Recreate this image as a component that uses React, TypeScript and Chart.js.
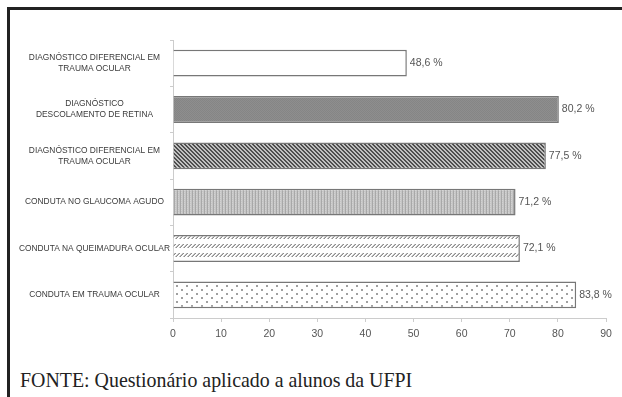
import React, { useEffect, useRef } from "react";
import { Chart, registerables } from "chart.js";

Chart.register(...registerables);

const categories: string[][] = [
  ["DIAGNÓSTICO DIFERENCIAL EM", "TRAUMA OCULAR"],
  ["DIAGNÓSTICO", "DESCOLAMENTO DE RETINA"],
  ["DIAGNÓSTICO DIFERENCIAL EM", "TRAUMA OCULAR"],
  ["CONDUTA NO GLAUCOMA AGUDO"],
  ["CONDUTA NA QUEIMADURA OCULAR"],
  ["CONDUTA EM TRAUMA OCULAR"],
];
const values: number[] = [48.6, 80.2, 77.5, 71.2, 72.1, 83.8];
const valueLabels: string[] = ["48,6 %", "80,2 %", "77,5 %", "71,2 %", "72,1 %", "83,8 %"];
const xTicks: number[] = [0, 10, 20, 30, 40, 50, 60, 70, 80, 90];
const patternKinds: string[] = ["white", "grey", "diag", "vert", "rows", "dots"];
const footerText = "FONTE: Questionário aplicado a alunos da UFPI";

function makePattern(kind: string): CanvasPattern | string {
  const c = document.createElement("canvas");
  const ctx = c.getContext("2d")!;
  if (kind === "white") return "#ffffff";
  if (kind === "grey") {
    c.width = 2; c.height = 2;
    ctx.fillStyle = "#8e8e8e"; ctx.fillRect(0, 0, 2, 2);
    ctx.fillStyle = "#858585"; ctx.fillRect(0, 0, 1, 1); ctx.fillRect(1, 1, 1, 1);
  } else if (kind === "diag") {
    c.width = 4; c.height = 4;
    ctx.fillStyle = "#c0c0c0"; ctx.fillRect(0, 0, 4, 4);
    ctx.fillStyle = "#4e4e4e";
    for (let i = 0; i < 4; i++) {
      ctx.fillRect(i, i, 1, 1);
      ctx.fillRect((i + 1) % 4, i, 1, 1);
    }
  } else if (kind === "vert") {
    c.width = 3; c.height = 2;
    ctx.fillStyle = "#c6c6c6"; ctx.fillRect(0, 0, 3, 2);
    ctx.fillStyle = "#a8a8a8"; ctx.fillRect(0, 0, 1, 2);
    ctx.fillStyle = "#d2d2d2"; ctx.fillRect(1, 0, 1, 1);
  } else if (kind === "rows") {
    c.width = 4; c.height = 9;
    ctx.fillStyle = "#ffffff"; ctx.fillRect(0, 0, 4, 9);
    ctx.fillStyle = "#8e8e8e";
    ctx.fillRect(3, 1, 1, 1); ctx.fillRect(2, 2, 1, 1); ctx.fillRect(1, 3, 1, 1); ctx.fillRect(0, 4, 1, 1);
    ctx.fillStyle = "#c0c0c0";
    ctx.fillRect(2, 1, 1, 1); ctx.fillRect(1, 2, 1, 1); ctx.fillRect(0, 3, 1, 1); ctx.fillRect(3, 4, 1, 1);
  } else if (kind === "dots") {
    c.width = 10; c.height = 8;
    ctx.fillStyle = "#ffffff"; ctx.fillRect(0, 0, 10, 8);
    ctx.fillStyle = "#a0a0a0";
    ctx.fillRect(1, 1, 2, 2);
    ctx.fillRect(6, 5, 2, 2);
  }
  const p = ctx.createPattern(c, "repeat");
  return p || "#ffffff";
}

const valueLabelPlugin = {
  id: "valueLabels",
  afterDatasetsDraw(chart: any) {
    const ctx = chart.ctx;
    const meta = chart.getDatasetMeta(0);
    ctx.save();
    ctx.font = "10.5px 'Liberation Sans', Arial, sans-serif";
    ctx.fillStyle = "#555555";
    ctx.textAlign = "left";
    ctx.textBaseline = "middle";
    meta.data.forEach((bar: any, i: number) => {
      ctx.fillText(valueLabels[i], bar.x + 3, bar.y);
    });
    ctx.restore();
  },
};

export default function App() {
  const ref = useRef<HTMLCanvasElement | null>(null);
  useEffect(() => {
    if (!ref.current) return;
    const bg = patternKinds.map((k) => makePattern(k));
    const chart = new Chart(ref.current, {
      type: "bar",
      data: {
        labels: categories,
        datasets: [
          {
            data: values,
            backgroundColor: bg as any,
            borderColor: "#777777",
            borderWidth: 1.5,
            categoryPercentage: 1,
            barPercentage: 0.58,
          },
        ],
      },
      options: {
        indexAxis: "y",
        animation: false,
        responsive: false,
        devicePixelRatio: 1,
        layout: { padding: { left: 10, right: 16, top: 40, bottom: 0 } },
        plugins: { legend: { display: false }, tooltip: { enabled: false } },
        scales: {
          x: {
            min: 0,
            max: 90,
            afterFit: (s: any) => { s.height = 32; },
            afterBuildTicks: (s: any) => { s.ticks = xTicks.map((v) => ({ value: v })); },
            grid: { drawOnChartArea: false, tickLength: 4, color: "#cccccc" },
            border: { display: true, color: "#cccccc", width: 1 },
            ticks: {
              padding: 6,
              color: "#555555",
              font: { family: "'Liberation Sans', Arial, sans-serif", size: 10.5 },
            },
          },
          y: {
            afterFit: (s: any) => { s.width = 163; },
            grid: { drawOnChartArea: false, tickLength: 3, color: "#cccccc", offset: true },
            border: { display: true, color: "#cccccc", width: 1 },
            ticks: {
              crossAlign: "center",
              padding: 0,
              color: "#3a3a3a",
              font: { family: "'Liberation Sans', Arial, sans-serif", size: 8.4, lineHeight: 1.3 },
            },
          },
        },
      },
      plugins: [valueLabelPlugin],
    });
    return () => chart.destroy();
  }, []);

  return (
    <div style={{ position: "fixed", left: 0, top: 0, width: 622, height: 397, background: "#fff", overflow: "hidden" }}>
      <div style={{ position: "absolute", left: 7, top: 7, width: 615, height: 3, background: "#222" }} />
      <div style={{ position: "absolute", left: 7, top: 7, width: 3, height: 390, background: "#222" }} />
      <canvas ref={ref} width={622} height={350} style={{ position: "absolute", left: 0, top: 0, width: 622, height: 350 }} />
      <div
        style={{
          position: "absolute",
          left: 20,
          top: 369,
          fontFamily: "'Liberation Serif', 'Times New Roman', serif",
          fontSize: 19.9,
          lineHeight: "22px",
          color: "#222",
          whiteSpace: "nowrap",
        }}
      >
        {footerText}
      </div>
    </div>
  );
}
